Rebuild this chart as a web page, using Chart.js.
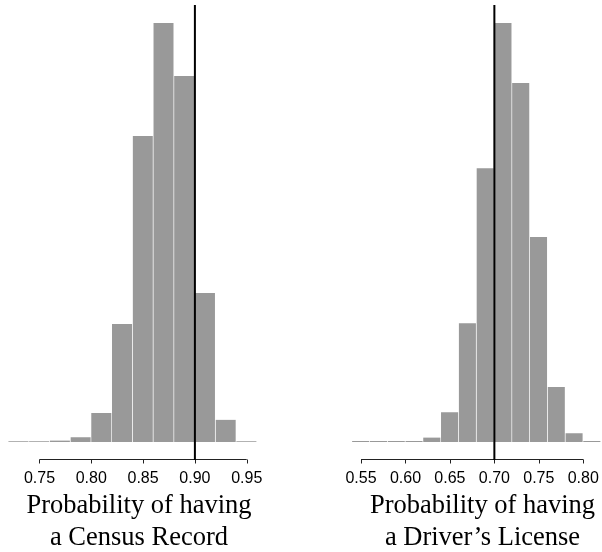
<!DOCTYPE html>
<html><head><meta charset="utf-8">
<script src="https://cdn.jsdelivr.net/npm/chart.js@4.4.1/dist/chart.umd.min.js"></script>
<style>
html,body{margin:0;padding:0;background:#fff;}
#wrap{position:relative;width:602px;height:552px;overflow:hidden;}
.c{position:absolute;top:0;height:552px;}
</style></head><body>
<div id="wrap">
<div class="c" style="left:0;width:278px"><canvas id="c1"></canvas></div>
<div class="c" style="left:301px;width:363px"><canvas id="c2"></canvas></div>
</div>
<script>
// ---- data ----
const binWidth = 0.02;
const censusBinStarts = [0.72,0.74,0.76,0.78,0.80,0.82,0.84,0.86,0.88,0.90,0.92,0.94];
const censusDensity   = [0.03,0.03,0.05,0.17,1.02,4.16,10.79,14.77,12.90,5.25,0.78,0.03];
const censusTicks     = [0.75,0.80,0.85,0.90,0.95];
const censusRef       = 0.90;
const censusTitle     = ['Probability of having','a Census Record'];

const licenseBinStarts = [0.54,0.56,0.58,0.60,0.62,0.64,0.66,0.68,0.70,0.72,0.74,0.76,0.78,0.80];
const licenseDensity   = [0.03,0.03,0.03,0.03,0.15,1.01,4.02,9.26,14.17,12.14,6.93,1.86,0.30,0.03];
const licenseTicks     = [0.55,0.60,0.65,0.70,0.75,0.80];
const licenseRef       = 0.70;
const licenseTitle     = ['Probability of having','a Driver\u2019s License'];

function refPlugin(ref, ticks){
  return {
    id:'refline',
    afterDatasetsDraw(chart){
      const {ctx, chartArea, scales:{x}} = chart;
      ctx.save();
      const yAxis = Math.round(chartArea.bottom) + 0.5;
      ctx.strokeStyle = '#222';
      ctx.lineWidth = 1;
      // axis line between first and last tick
      const a = x.getPixelForValue(ticks[0]);
      const b = x.getPixelForValue(ticks[ticks.length-1]);
      ctx.beginPath(); ctx.moveTo(a, yAxis); ctx.lineTo(b, yAxis); ctx.stroke();
      // tick marks
      ticks.forEach(v => {
        const p = Math.round(x.getPixelForValue(v)) + 0.5;
        ctx.beginPath(); ctx.moveTo(p, yAxis); ctx.lineTo(p, yAxis + 4); ctx.stroke();
      });
      // reference line
      const px = x.getPixelForValue(ref);
      ctx.strokeStyle = '#000';
      ctx.lineWidth = 2;
      ctx.beginPath(); ctx.moveTo(px, chartArea.top); ctx.lineTo(px, chartArea.bottom + 1); ctx.stroke();
      ctx.restore();
    }
  };
}

function makeChart(id, starts, dens, ticks, ref, title, xmin, xmax){
  const data = starts.map((s,i)=>({x: s + binWidth/2, y: dens[i]}));
  const ymax = Math.max(...dens);
  return new Chart(document.getElementById(id), {
    type:'bar',
    data:{datasets:[{
      data,
      backgroundColor:'#999999',
      borderColor:'#ffffff',
      borderWidth:{left:0,right:1,top:0,bottom:0},
      borderSkipped:'start',
      barPercentage:1,
      categoryPercentage:1
    }]},
    options:{
      responsive:true, maintainAspectRatio:false, animation:false,
      layout:{padding:{top:5,left:0,right:0,bottom:0}},
      plugins:{legend:{display:false}, tooltip:{enabled:false}},
      scales:{
        x:{
          type:'linear', min:xmin, max:xmax, offset:false,
          afterBuildTicks: s => { s.ticks = ticks.map(v => ({value:v})); },
          afterFit: s => { s.height = 93; },
          ticks:{autoSkip:false, maxRotation:0, minRotation:0, color:'#000',
                 font:{family:'Liberation Sans', size:16}, padding:1.5,
                 callback: v => Number(v).toFixed(2)},
          grid:{display:false},
          border:{display:false},
          title:{display:true, text:title, color:'#000',
                 font:{family:'Liberation Serif', size:26.5, lineHeight:1.2},
                 padding:{top:0, bottom:-2}}
        },
        y:{display:false, min:-ymax*17/419, max:ymax*437/419}
      }
    },
    plugins:[refPlugin(ref, ticks)]
  });
}

makeChart('c1', censusBinStarts, censusDensity, censusTicks, censusRef, censusTitle, 0.7119, 0.9802);
makeChart('c2', licenseBinStarts, licenseDensity, licenseTicks, licenseRef, licenseTitle, 0.4825, 0.8908);
</script>
</body></html>
